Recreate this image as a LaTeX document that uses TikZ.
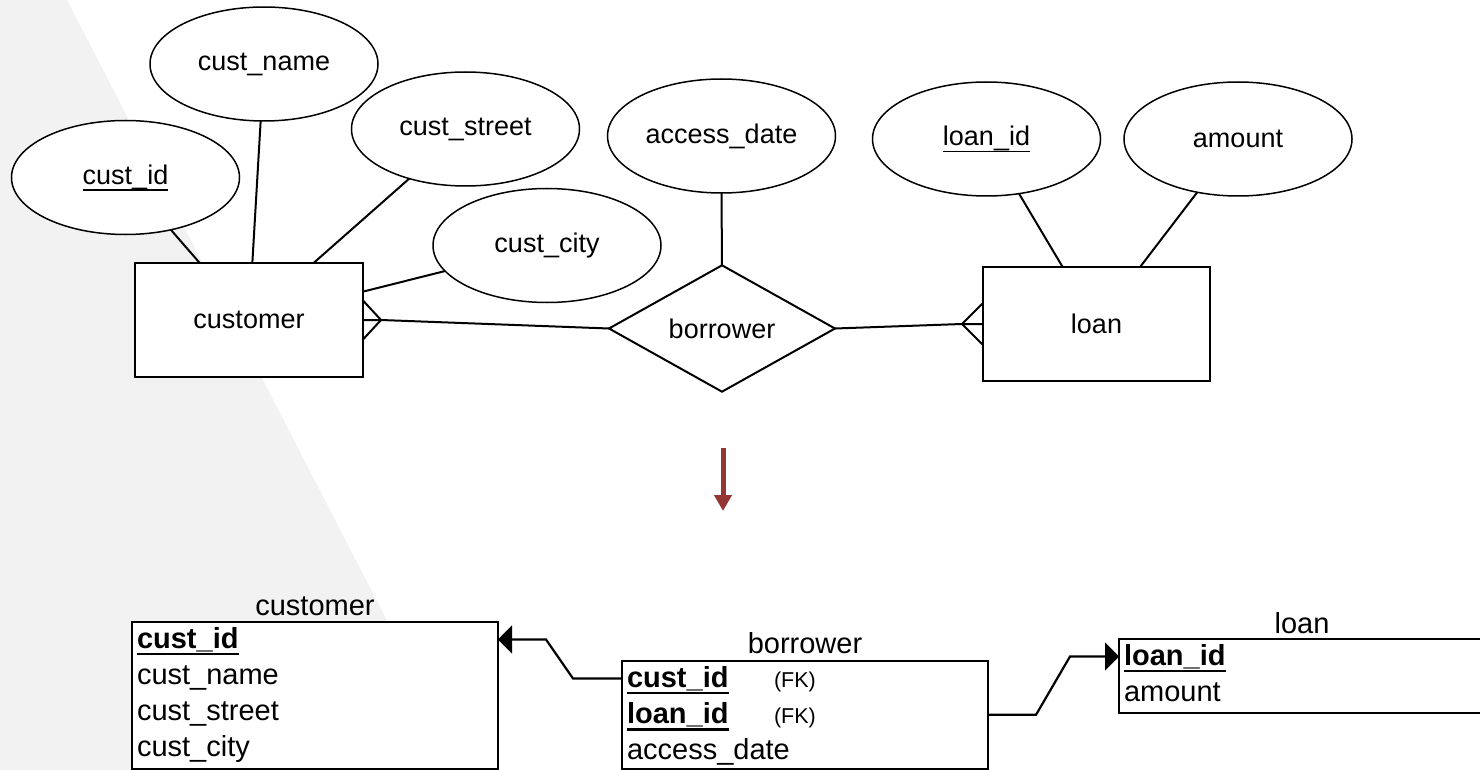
\documentclass[tikz,border=0pt]{standalone}
\usepackage{fontspec}
\setmainfont{Liberation Sans}
\usetikzlibrary{shapes.geometric,arrows.meta,calc}
\definecolor{bggray}{HTML}{F2F2F2}
\definecolor{arrowred}{RGB}{150,54,52}
\newcommand{\erfont}{\fontsize{27}{32}\selectfont}
\newcommand{\tblfont}{\fontsize{29}{34}\selectfont}
\newcommand{\fkfont}{\fontsize{21.5}{25}\selectfont}
\newcommand{\myul}[3]{\setbox0\hbox{#3}\rlap{\rule[-#1]{\wd0}{#2}}\box0}
\begin{document}
\begin{tikzpicture}[x=1pt,y=-1pt,
  attr/.style={draw, ellipse, line width=1.5pt, minimum width=228pt, minimum height=114pt, inner sep=0pt, outer sep=0pt, font=\erfont, fill=white},
  entity/.style={draw, rectangle, line width=2.2pt, minimum width=228pt, minimum height=114pt, outer sep=0pt, font=\erfont, fill=white},
  rel/.style={draw, diamond, line width=2pt, minimum width=226pt, minimum height=113pt, inner sep=0pt, outer sep=0pt, font=\erfont, fill=white},
  link/.style={line width=2pt},
  tbl/.style={draw, line width=2.4pt, minimum width=366pt, anchor=north west, inner sep=0pt, outer sep=0pt, fill=white},
  tblrow/.style={anchor=west, inner xsep=5pt, inner ysep=0pt, outer sep=0pt, text width=356pt, align=left, text height=26pt, text depth=9pt, font=\tblfont},
  tbltitle/.style={anchor=base, font=\tblfont, inner sep=0pt},
  fkey/.style={line width=2.2pt, -{Triangle[length=14pt,width=28pt]}},
  bigarrow/.style={arrowred, line width=5pt, -{Triangle[length=16pt,width=17pt]}}
]
\useasboundingbox (0,0) rectangle (1480,770);
\clip (0,0) rectangle (1480,770);
\fill[white] (0,0) rectangle (1480,770);
\fill[bggray] (0,0) -- (67,0) -- (464,770) -- (0,770) -- cycle;

% ER diagram
\node[attr] (custid) at (125.5,177.5) {\myul{6.5pt}{1.5pt}{cust\_id}};
\node[attr] (custname) at (264,64) {cust\_name};
\node[attr] (custstreet) at (465.5,129) {cust\_street};
\node[attr] (custcity) at (547,245.5) {cust\_city};
\node[attr] (accdate) at (721.5,136) {access\_date};
\node[attr] (loanid) at (986.5,139) {\myul{6.5pt}{1.5pt}{loan\_id}};
\node[attr] (amount) at (1238,139) {amount};
\node[entity] (customer) at (249,320) {customer};
\node[entity, minimum width=227pt] (loan) at (1096.5,324) {loan};
\node[rel] (borrower) at (722,328.5) {borrower};

\draw[link] (custid) -- (customer);
\draw[link] (custname) -- (customer);
\draw[link] (custstreet) -- (customer);
\draw[link] (custcity) -- (customer);
\draw[link] (accdate) -- (borrower);
\draw[link] (loanid) -- (loan);
\draw[link] (amount) -- (loan);

\draw[link] (customer.east) -- ([xshift=18pt]customer.east) -- (borrower.west);
\draw[link] ([yshift=19.5pt]customer.east) -- ([xshift=18pt]customer.east) -- ([yshift=-19.5pt]customer.east);
\draw[link] (borrower.east) -- ([xshift=-21pt]loan.west) -- (loan.west);
\draw[link] ([yshift=21pt]loan.west) -- ([xshift=-21pt]loan.west) -- ([yshift=-21pt]loan.west);

% transition arrow
\coordinate (arrtop) at (723,448);
\coordinate (arrtip) at (723,511);
\draw[bigarrow] (arrtop) -- (arrtip);

% relational tables
\node[tbl, minimum height=147pt] (custT) at (132,622) {};
\node[tbltitle] (custTitle) at ($(custT.north)+(0,-7)$) {customer};
\node[tblrow] (cRow1) at ($(custT.north west)+(0,17.5)$) {\myul{7.3pt}{2.7pt}{\bfseries cust\_id}};
\node[tblrow] (cRow2) at ($(custT.north west)+(0,53.8)$) {cust\_name};
\node[tblrow] (cRow3) at ($(custT.north west)+(0,90.1)$) {cust\_street};
\node[tblrow] (cRow4) at ($(custT.north west)+(0,126.4)$) {cust\_city};

\node[tbl, minimum height=108pt] (borT) at (622,661) {};
\node[tbltitle] (borTitle) at ($(borT.north)+(0,-8)$) {borrower};
\node[tblrow] (bRow1) at ($(borT.north west)+(0,17.5)$) {\makebox[147pt][l]{\myul{7.3pt}{2.7pt}{\bfseries cust\_id}}{\fkfont (FK)}};
\node[tblrow] (bRow2) at ($(borT.north west)+(0,53.8)$) {\makebox[147pt][l]{\myul{7.3pt}{2.7pt}{\bfseries loan\_id}}{\fkfont (FK)}};
\node[tblrow] (bRow3) at ($(borT.north west)+(0,90.1)$) {access\_date};

\node[tbl, minimum height=74pt] (loanT) at (1119,639) {};
\node[tbltitle] (loanTitle) at ($(loanT.north)+(0,-6)$) {loan};
\node[tblrow] (lRow1) at ($(loanT.north west)+(0,17.5)$) {\myul{7.3pt}{2.7pt}{\bfseries loan\_id}};
\node[tblrow] (lRow2) at ($(loanT.north west)+(0,53.8)$) {amount};

\draw[fkey] (bRow1.west) -- ++(-49,0) -- ([xshift=48pt]cRow1.east) -- (cRow1.east);
\draw[fkey] (bRow2.east) -- ++(48,0) -- ([xshift=-49pt]lRow1.west) -- (lRow1.west);
\end{tikzpicture}
\end{document}
